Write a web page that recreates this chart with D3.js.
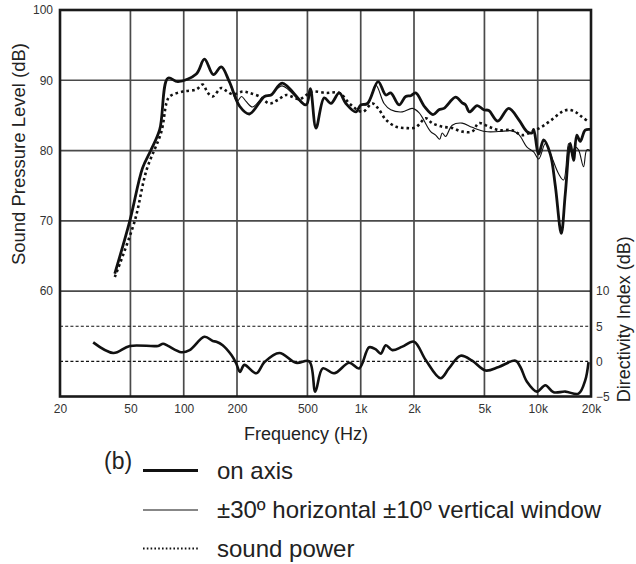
<!DOCTYPE html>
<html><head><meta charset="utf-8">
<script src="https://cdn.jsdelivr.net/npm/d3@7"></script>
<style>body{margin:0;background:#fff} text{font-family:"Liberation Sans", Arial, Helvetica, sans-serif}</style>
</head><body><svg id="c" width="636" height="564"></svg>
<script>
const xTicks = [20,50,100,200,500,1000,2000,5000,10000,20000];
const xGrid = [50,100,200,500,1000,2000,5000,10000];
const splTicks = [60,70,80,90,100];
const splGrid = [60,70,80,90];
const diTicks = [-5,0,5,10];
const diGrid = [0,5];

const onAxis = [[40.8,62.5],[49.6,70],[58.5,77.5],[65.1,80],[73.2,83],[81.5,90.3],[92.8,89.8],[117.8,90.9],[131,93.0],[147,90.8],[163,91.9],[181,89.8],[207,86.3],[235,85.2],[286,87.7],[312,87.9],[360,89.6],[491,86.5],[519,88.8],[559,83.2],[622,87.5],[679,86.7],[756,88.2],[825,86.7],[939,85.5],[1002,86.5],[1092,86.7],[1254,89.8],[1386,87.9],[1478,88.2],[1647,86.5],[1796,87.7],[1916,87.8],[2044,88.2],[2300,86.2],[2560,85.1],[2766,85.8],[2951,86.0],[3436,87.6],[3743,86.8],[3912,86.5],[4120,85.5],[4546,86.4],[4960,85.8],[5292,85.7],[5946,84.2],[6858,86.0],[7808,84.4],[8696,82.7],[9280,82.5],[9488,83.0],[10122,79.5],[10800,81.5],[11780,79.5],[12570,75],[13588,68.2],[14310,73.8],[15270,81],[15940,78.6],[16636,82.2],[17386,81.3],[18548,82.9],[19794,83]];

const listeningWindow = [[40.8,62.5],[49.6,70],[58.5,77.5],[65.1,80],[73.2,83],[81.5,90.3],[92.8,89.8],[117.8,90.9],[131,93.0],[147,90.8],[163,91.9],[181,89.8],[200,87.0],[212,87.7],[225,87.0],[245,86.2],[280,87.6],[312,88.0],[360,89.2],[491,86.5],[519,88.8],[559,83.2],[622,87.5],[679,86.7],[756,88.2],[825,86.7],[939,85.5],[1002,86.5],[1092,86.5],[1217,89.3],[1355,86.7],[1478,85.8],[1719,85.5],[1956,86.0],[2134,85.4],[2484,82.7],[2650,82.2],[2792,81.6],[2886,82.5],[3017,82.0],[3288,83.6],[3743,83.9],[4262,83.3],[5070,82.7],[6024,82.7],[7158,82.8],[7808,82.3],[8696,80.5],[9488,79.8],[10122,78.8],[11042,81],[11780,79.6],[13120,76.7],[14000,75.8],[14936,81],[15590,79.6],[16294,80.5],[17006,80.1],[18144,77.7],[18940,80.1],[19794,80]];

const soundPower = [[40.8,62],[52.9,70],[61.6,77.2],[74.8,82.7],[79.8,86.7],[83.3,87.7],[99,88.4],[117.8,88.7],[128,89.4],[137,88.2],[146,87.7],[163,88.9],[174,88.5],[189,88.0],[216,88.4],[235,88.2],[268,87.7],[305,86.7],[340,87.2],[379,87.9],[450,87.3],[480,87.7],[512,88.2],[547,88.4],[636,88.2],[756,88.2],[880,86.5],[1023,85.5],[1165,86.7],[1270,85.8],[1386,84.4],[1578,83.4],[1796,83.2],[2044,83.3],[2328,84.6],[2536,83.9],[2886,83.4],[3288,83.2],[3743,82.7],[4262,82.7],[4648,83.9],[5292,83.4],[6024,82.9],[7158,82.9],[8150,82.2],[9280,82.7],[10566,83.4],[12028,84.4],[13694,85.5],[14936,85.8],[16294,85.5],[17750,84.8],[19362,84.1]];

const directivity = [[30.8,2.7],[40,1.2],[49.6,2.2],[71.6,2.2],[76.4,2.5],[81.5,2.2],[97,1.3],[108,1.6],[131,3.5],[146,2.9],[153,2.8],[166,2.3],[186,0.9],[198,-0.3],[208,-1.5],[220,-0.5],[257,-1.7],[286,-0.1],[347,1.2],[431,-0.2],[512,0],[554,-4.3],[610,-1.0],[708,-1.7],[861,-0.2],[980,-1.0],[1116,2.0],[1217,1.7],[1299,1.1],[1386,2.3],[1509,1.6],[1719,2.1],[2000,2.8],[2328,0.2],[2828,-2.4],[3150,-1.0],[3666,0.8],[4262,0.1],[5070,-1.3],[6024,-0.8],[7482,0.1],[7982,-0.8],[8696,-2.9],[9902,-4.3],[11042,-3.4],[12296,-4.4],[14310,-4.3],[17006,-4.6],[18548,-2.7],[19362,-0.1]];

const legendLabels = ["on axis", "\u00B130\u00BA horizontal \u00B110\u00BA vertical window", "sound power"];
const panelLabel = "(b)";

const svg = d3.select("#c");
const L = 60, R = 591, T = 10, B = 396.5;
const x = d3.scaleLog().domain([20, 20000]).range([L, R]);
const y = d3.scaleLinear().domain([45, 100]).range([B, T]);
const yDI = d3.scaleLinear().domain([-5, 50]).range([B, T]);

// grid
const g = svg.append("g");
g.selectAll(".vg").data(xGrid).join("line")
  .attr("x1", d => x(d)).attr("x2", d => x(d)).attr("y1", T).attr("y2", B)
  .attr("stroke", "#4a4a4a").attr("stroke-width", 1.7);
g.selectAll(".hg").data(splGrid).join("line")
  .attr("x1", L).attr("x2", R).attr("y1", d => y(d)).attr("y2", d => y(d))
  .attr("stroke", "#4a4a4a").attr("stroke-width", 1.7);
g.selectAll(".dg").data(diGrid).join("line")
  .attr("x1", L).attr("x2", R).attr("y1", d => yDI(d)).attr("y2", d => yDI(d))
  .attr("stroke", "#111").attr("stroke-width", 1.1).attr("stroke-dasharray", "3,2.2");

// axes
const fmtX = d => d >= 1000 ? (d/1000) + "k" : String(d);
const ax = svg.append("g").attr("transform", `translate(0,${B})`)
  .call(d3.axisBottom(x).tickValues(xTicks).tickFormat(fmtX).tickSize(0).tickPadding(8));
const ay = svg.append("g").attr("transform", `translate(${L},0)`)
  .call(d3.axisLeft(y).tickValues(splTicks).tickFormat(d3.format("d")).tickSize(0).tickPadding(7));
const ar = svg.append("g").attr("transform", `translate(${R},0)`)
  .call(d3.axisRight(yDI).tickValues(diTicks).tickSize(0).tickPadding(5));
[ax, ay, ar].forEach(a => {
  a.select(".domain").remove();
  a.selectAll("text").attr("font-size", 12).attr("fill", "#333")
    .style("font-family", '"Liberation Sans", Arial, sans-serif');
});

// frame
svg.append("rect").attr("x", L).attr("y", T).attr("width", R - L).attr("height", B - T)
  .attr("fill", "none").attr("stroke", "#1a1a1a").attr("stroke-width", 2.6);

// curves
const line = d3.line().x(d => x(d[0])).y(d => y(d[1])).curve(d3.curveCatmullRom.alpha(0.5));
const lineDI = d3.line().x(d => x(d[0])).y(d => yDI(d[1])).curve(d3.curveCatmullRom.alpha(0.5));

svg.append("path").datum(soundPower).attr("d", line).attr("fill", "none")
  .attr("stroke", "#111").attr("stroke-width", 2.6).attr("stroke-dasharray", "2.6,3");
svg.append("path").datum(listeningWindow).attr("d", line).attr("fill", "none")
  .attr("stroke", "#111").attr("stroke-width", 1.1);
svg.append("path").datum(onAxis).attr("d", line).attr("fill", "none")
  .attr("stroke", "#111").attr("stroke-width", 2.8).attr("stroke-linejoin", "round");
svg.append("path").datum(directivity).attr("d", lineDI).attr("fill", "none")
  .attr("stroke", "#111").attr("stroke-width", 2.6).attr("stroke-linejoin", "round");

// axis titles
svg.append("text").attr("x", 306).attr("y", 440).attr("text-anchor", "middle")
  .attr("font-size", 18).attr("fill", "#222").text("Frequency (Hz)");
svg.append("text").attr("transform", `translate(25,${y(79.5)}) rotate(-90)`).attr("text-anchor", "middle")
  .attr("font-size", 18.5).attr("fill", "#222").text("Sound Pressure Level (dB)");
svg.append("text").attr("transform", `translate(630,${yDI(6)}) rotate(-90)`).attr("text-anchor", "middle")
  .attr("font-size", 18).attr("fill", "#222").text("Directivity Index (dB)");

// legend
svg.append("text").attr("x", 104).attr("y", 469).attr("font-size", 23).attr("fill", "#222").text(panelLabel);
const legY = [470.5, 510, 548.5];
const legStyles = [
  {w: 3, dash: null},
  {w: 1.1, dash: null},
  {w: 1.8, dash: "1.6,2.2"}
];
legendLabels.forEach((lab, i) => {
  const ln = svg.append("line").attr("x1", 143).attr("x2", 198).attr("y1", legY[i]).attr("y2", legY[i])
    .attr("stroke", "#111").attr("stroke-width", legStyles[i].w);
  if (legStyles[i].dash) ln.attr("stroke-dasharray", legStyles[i].dash);
  svg.append("text").attr("x", 217).attr("y", legY[i] + 8).attr("font-size", 24).attr("fill", "#222").text(lab);
});
</script></body></html>
